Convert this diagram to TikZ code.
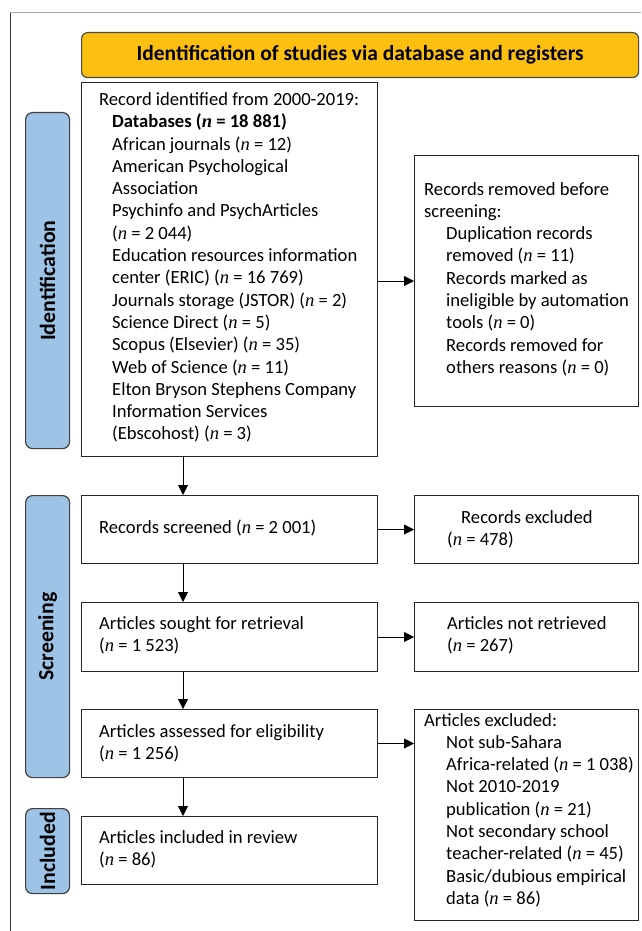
\documentclass[tikz,border=0pt]{standalone}
\usepackage{fontspec}
\setmainfont{Carlito}
\newfontfamily\nfont{Liberation Serif}
\usetikzlibrary{arrows.meta}
\newcommand\nv{{\nfont\itshape n}}
\newcommand\ind{\hspace*{13pt}}
\newcommand\indr{\hspace*{22pt}}
\definecolor{ttl}{HTML}{FDC010}
\definecolor{lbl}{HTML}{9DC3E6}
\begin{document}
\begin{tikzpicture}[x=1pt,y=-1pt,
  box/.style={draw=black!85, line width=1pt, anchor=north west, inner sep=0pt},
  lblbox/.style={draw=black!75, fill=lbl, rounded corners=7pt, line width=1.2pt, anchor=north west, inner sep=0pt},
  arr/.style={line width=1pt, -{Triangle[length=10pt,width=10pt]}},
  txt/.style={anchor=base west, inner sep=0pt, font=\fontsize{18.6}{22.3}\selectfont},
  lbltxt/.style={font=\fontsize{21.8}{24}\selectfont\bfseries, rotate=90, inner sep=0pt}]
\useasboundingbox (0,0) rectangle (641,931);
\fill[white] (0,0) rectangle (641,931);
% outer frame
\draw[gray!70, line width=1pt] (10,13) -- (641,13);
\draw[black!80, line width=1pt] (10,13) -- (10,931);
% title
\node[draw=black!70, fill=ttl, rounded corners=6pt, line width=1.2pt, anchor=north west, inner sep=0pt,
  minimum width=557pt, minimum height=45pt] (title) at (81,32) {};
\node[font=\fontsize{21.5}{24}\selectfont\bfseries, inner sep=0pt] (titletxt) at (title.center) {Identification of studies via database and registers};
% phase labels
\node[lblbox, minimum width=44pt, minimum height=336pt] (idl) at (25,112) {};
\node[lbltxt] (idltxt) at (idl.center) {Identification};
\node[lblbox, minimum width=44pt, minimum height=282pt] (scl) at (25,495) {};
\node[lbltxt] (scltxt) at (scl.center) {Screening};
\node[lblbox, minimum width=44pt, minimum height=85pt] (inl) at (25,808) {};
\node[lbltxt] (inltxt) at (inl.center) {Included};
% boxes
\node[box, minimum width=296pt, minimum height=374pt] (id) at (81,82) {};
\node[box, minimum width=224pt, minimum height=251pt] (rem) at (414,155) {};
\node[box, minimum width=296pt, minimum height=68pt] (scr) at (81,495) {};
\node[box, minimum width=224pt, minimum height=68pt] (exc) at (414,495) {};
\node[box, minimum width=296pt, minimum height=69pt] (sought) at (81,602) {};
\node[box, minimum width=224pt, minimum height=69pt] (notret) at (414,602) {};
\node[box, minimum width=296pt, minimum height=68pt] (assess) at (81,709) {};
\node[box, minimum width=224pt, minimum height=211pt] (excl) at (414,709) {};
\node[box, minimum width=296pt, minimum height=68pt] (incl) at (81,816) {};
% texts
\node[txt] (idtxt) at (99,105.5) {\vtop{%
  \hbox{Record identified from 2000-2019:}
  \hbox{\ind\textbf{Databases (\nv{} = 18 881)}}
  \hbox{\ind African journals (\nv{} = 12)}
  \hbox{\ind American Psychological}
  \hbox{\ind Association}
  \hbox{\ind Psychinfo and PsychArticles}
  \hbox{\ind (\nv{} = 2 044)}
  \hbox{\ind Education resources information}
  \hbox{\ind center (ERIC) (\nv{} = 16 769)}
  \hbox{\ind Journals storage (JSTOR) (\nv{} = 2)}
  \hbox{\ind Science Direct (\nv{} = 5)}
  \hbox{\ind Scopus (Elsevier) (\nv{} = 35)}
  \hbox{\ind Web of Science (\nv{} = 11)}
  \hbox{\ind Elton Bryson Stephens Company}
  \hbox{\ind Information Services}
  \hbox{\ind (Ebscohost) (\nv{} = 3)}}};
\node[txt] (remtxt) at (424,195) {\vtop{%
  \hbox{Records removed before}
  \hbox{screening:}
  \hbox{\indr Duplication records}
  \hbox{\indr removed (\nv{} = 11)}
  \hbox{\indr Records marked as}
  \hbox{\indr ineligible by automation}
  \hbox{\indr tools (\nv{} = 0)}
  \hbox{\indr Records removed for}
  \hbox{\indr others reasons (\nv{} = 0)}}};
\node[txt] (scrtxt) at (99,533) {Records screened (\nv{} = 2 001)};
\node[txt] (exctxt) at (447,523) {\vtop{%
  \hbox{\hspace*{14pt}Records excluded}
  \hbox{(\nv{} = 478)}}};
\node[txt] (soughttxt) at (99,629) {\vtop{%
  \hbox{Articles sought for retrieval}
  \hbox{(\nv{} = 1 523)}}};
\node[txt] (notrettxt) at (447,629) {\vtop{%
  \hbox{Articles not retrieved}
  \hbox{(\nv{} = 267)}}};
\node[txt] (assesstxt) at (99,737) {\vtop{%
  \hbox{Articles assessed for eligibility}
  \hbox{(\nv{} = 1 256)}}};
\node[txt] (excltxt) at (424,726) {\vtop{%
  \hbox{Articles excluded:}
  \hbox{\indr Not sub-Sahara}
  \hbox{\indr Africa-related (\nv{} = 1 038)}
  \hbox{\indr Not 2010-2019}
  \hbox{\indr publication (\nv{} = 21)}
  \hbox{\indr Not secondary school}
  \hbox{\indr teacher-related (\nv{} = 45)}
  \hbox{\indr Basic/dubious empirical}
  \hbox{\indr data (\nv{} = 86)}}};
\node[txt] (incltxt) at (99,843) {\vtop{%
  \hbox{Articles included in review}
  \hbox{(\nv{} = 86)}}};
% connectors
\coordinate (ax) at (183,0);
\draw[arr] (ax |- id.south) -- (ax |- scr.north);
\draw[arr] (ax |- scr.south) -- (ax |- sought.north);
\draw[arr] (ax |- sought.south) -- (ax |- assess.north);
\draw[arr] (ax |- assess.south) -- (ax |- incl.north);
\draw[arr] (id.east |- rem.west) -- (rem.west);
\draw[arr] (scr.east) -- (exc.west);
\draw[arr] (sought.east) -- (notret.west);
\draw[arr] (assess.east) -- (assess.east -| excl.west);
\end{tikzpicture}
\end{document}
